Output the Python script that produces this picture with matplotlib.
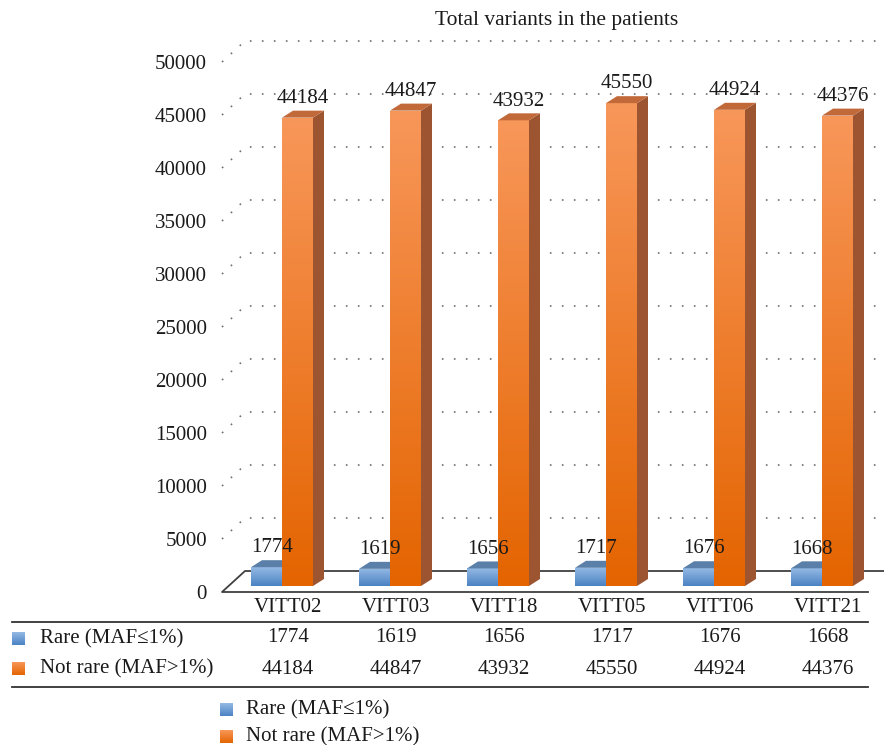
import numpy as np
import matplotlib
matplotlib.use("Agg")
import matplotlib.pyplot as plt
from matplotlib.patches import Polygon
from matplotlib.lines import Line2D
from matplotlib.colors import LinearSegmentedColormap
from matplotlib.transforms import blended_transform_factory

# ---- data ----
patients = ["VITT02", "VITT03", "VITT18", "VITT05", "VITT06", "VITT21"]
rare = [1774, 1619, 1656, 1717, 1676, 1668]
not_rare = [44184, 44847, 43932, 45550, 44924, 44376]
series_names = ["Rare (MAF≤1%)", "Not rare (MAF>1%)"]
y_ticks = list(range(0, 50001, 5000))
title = "Total variants in the patients"

# ---- style ----
W, H = 884, 745
FS = 15
plt.rcParams["font.family"] = ["Liberation Serif", "DejaVu Serif"]
plt.rcParams["font.size"] = FS
TEXT = "#1a1a1a"

BLUE = dict(top="#95bae4", bottom="#4a82c3", lid="#5a7fa8", side="#4a6f98")
ORANGE = dict(top="#f8975a", bottom="#e46400", lid="#c2693a", side="#9c5530")

fig = plt.figure(figsize=(W / 100, H / 100), dpi=100)


def fx(px):
    return px / W


def fy(py):
    return 1 - py / H


PX_PER_K = 10.6          # vertical pixels per 1000 variants
Y_TOP = 53000
ax = fig.add_axes([fx(222), fy(592), 648 / W, Y_TOP / 1000 * PX_PER_K / H])
ax.patch.set_visible(False)
for s in ax.spines.values():
    s.set_visible(False)
ax.set_xticks([])
ax.set_yticks(y_ticks)
ax.set_yticklabels([str(v) for v in y_ticks])
ax.tick_params(axis="y", length=0, pad=10.8, labelsize=FS, labelcolor=TEXT)

# pseudo-3D geometry in data units
FLOOR_DX, FLOOR_DY = 23 / 108, 21 / PX_PER_K * 1000
BAR_DX, BAR_DY = 6 / 108, 6 / PX_PER_K * 1000
DEPTH_DX, DEPTH_DY = 11 / 108, 7 / PX_PER_K * 1000
BAR_W = 31 / 108
RIGHT_BACK = (884 - 222) / 108 + 0.05
RIGHT_FRONT = 646 / 108
LABEL_DX = 12 / 108

# back-wall gridlines (dotted) and the floor edges
for v in y_ticks[1:]:
    ax.plot([0, FLOOR_DX, RIGHT_BACK], [v, v + FLOOR_DY, v + FLOOR_DY],
            color="#707070", lw=1.2, ls=(0, (1, 6.2)), clip_on=False, zorder=1)
ax.plot([RIGHT_FRONT, 0, FLOOR_DX, RIGHT_BACK], [0, 0, FLOOR_DY, FLOOR_DY],
        color="#404040", lw=1.3, clip_on=False, zorder=1)

grad = np.linspace(0, 1, 256).reshape(-1, 1)


def draw_series(lefts, values, pal, z):
    cmap = LinearSegmentedColormap.from_list("g", [pal["bottom"], pal["top"]])
    bars = ax.bar(lefts, values, width=BAR_W, bottom=BAR_DY, align="edge",
                  color=pal["bottom"], linewidth=0, zorder=z, clip_on=False)
    for rect, v in zip(bars, values):
        x0 = rect.get_x()
        x1 = x0 + rect.get_width()
        y0 = rect.get_y()
        y1 = y0 + rect.get_height()
        im = ax.imshow(grad, cmap=cmap, extent=[x0, x1, y0, y1], origin="lower",
                       aspect="auto", zorder=z + 0.1, interpolation="bilinear")
        im.set_clip_path(rect)
        side = Polygon([(x1, y0), (x1, y1), (x1 + DEPTH_DX, y1 + DEPTH_DY),
                        (x1 + DEPTH_DX, y0 + DEPTH_DY)], closed=True,
                       facecolor=pal["side"], edgecolor="none", zorder=z - 0.5,
                       clip_on=False)
        lid = Polygon([(x0, y1), (x1, y1), (x1 + DEPTH_DX, y1 + DEPTH_DY),
                       (x0 + DEPTH_DX, y1 + DEPTH_DY)], closed=True,
                      facecolor=pal["lid"], edgecolor="none", zorder=z + 0.2,
                      clip_on=False)
        ax.add_patch(side)
        ax.add_patch(lid)
        ax.annotate(str(v), ((x0 + x1) / 2 + DEPTH_DX / 2, y1 + DEPTH_DY),
                    xytext=(0, 2.0), textcoords="offset points", ha="center",
                    va="bottom", color=TEXT, fontsize=FS, zorder=20)


centers = np.arange(len(patients)) + 0.5 + BAR_DX
draw_series(centers - BAR_W, rare, BLUE, 3)
draw_series(centers, not_rare, ORANGE, 6)
ax.set_xlim(0, 6)
ax.set_ylim(0, Y_TOP)

# title
fig.text(fx(557), fy(20), title, ha="center", va="center", fontsize=15.5,
         color=TEXT)

# data table under the chart
tr = blended_transform_factory(ax.transData, fig.transFigure)
col_x = np.arange(len(patients)) + 0.5 + LABEL_DX
for i, name in enumerate(patients):
    fig.text(col_x[i], fy(608), name, transform=tr, ha="center", va="center",
             color=TEXT)
    fig.text(col_x[i], fy(638), str(rare[i]), transform=tr, ha="center",
             va="center", color=TEXT)
    fig.text(col_x[i], fy(669), str(not_rare[i]), transform=tr, ha="center",
             va="center", color=TEXT)
for py in (622, 687):
    fig.add_artist(Line2D([fx(12), fx(868)], [fy(py), fy(py)],
                          transform=fig.transFigure, color="#333333", lw=1.3))


def swatch(px, py, pal):
    sax = fig.add_axes([fx(px), fy(py + 13), 13 / W, 13 / H])
    cmap = LinearSegmentedColormap.from_list("s", [pal["bottom"], pal["top"]])
    sax.imshow(grad, cmap=cmap, origin="lower", aspect="auto",
               interpolation="bilinear")
    sax.set_axis_off()


for py, name, pal in ((632, series_names[0], BLUE), (662, series_names[1], ORANGE)):
    swatch(12, py, pal)
    fig.text(fx(40), fy(py + 6.5), name, ha="left", va="center", color=TEXT)

# legend
for py, name, pal in ((703, series_names[0], BLUE), (730, series_names[1], ORANGE)):
    swatch(220, py, pal)
    fig.text(fx(246), fy(py + 6.5), name, ha="left", va="center", color=TEXT)

fig.savefig("out.png", dpi=100)
